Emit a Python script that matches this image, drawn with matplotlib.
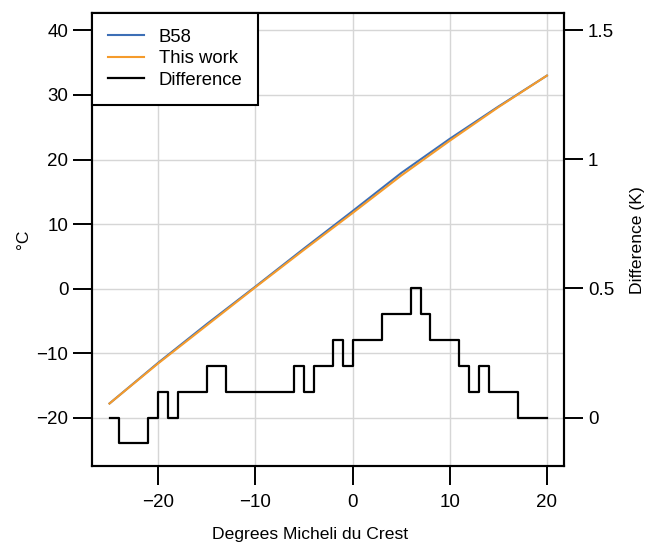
import matplotlib
matplotlib.use('Agg')
import matplotlib.pyplot as plt

plt.rcParams['font.family'] = ['Liberation Sans', 'DejaVu Sans']

# Temperature curves (deg C) against degrees Micheli du Crest
mdc = [-25, -20, -15, -10, -5, 0, 5, 10, 15, 20]
b58 = [-17.8, -11.5, -5.5, 0.3, 6.2, 12.0, 17.9, 23.2, 28.2, 33.0]
this_work = [-17.8, -11.6, -5.7, 0.2, 6.0, 11.7, 17.5, 22.9, 28.1, 33.0]

# Difference (K), one value per integer degree
diff_x = list(range(-25, 21))
diff_k = [0.0, -0.1, -0.1, -0.1, 0.0, 0.1, 0.0, 0.1, 0.1, 0.1,
          0.2, 0.2, 0.1, 0.1, 0.1, 0.1, 0.1, 0.1, 0.1, 0.2,
          0.1, 0.2, 0.2, 0.3, 0.2, 0.3, 0.3, 0.3, 0.4, 0.4,
          0.4, 0.5, 0.4, 0.3, 0.3, 0.3, 0.2, 0.1, 0.2, 0.1,
          0.1, 0.1, 0.0, 0.0, 0.0, 0.0]

fig = plt.figure(figsize=(6.48, 5.44), dpi=100)
ax1 = fig.add_axes([0.142, 0.1425, 0.729, 0.8336])
ax2 = ax1.twinx()

ax1.set_xlim(-26.8, 21.8)
ax1.set_ylim(-27.56, 42.7)
ax2.set_ylim(-0.189, 1.566)

ax1.grid(True, color='#d6d6d6', linewidth=1)
ax1.set_axisbelow(True)

l1, = ax1.plot(mdc, b58, color='#3d6fb6', linewidth=1.5, label='B58')
l2, = ax1.plot(mdc, this_work, color='#f59b2b', linewidth=1.5, label='This work')
l3, = ax2.step(diff_x, diff_k, where='post', color='black', linewidth=1.6, label='Difference')

ax1.set_xticks([-20, -10, 0, 10, 20])
ax1.set_xticklabels(['\u221220', '\u221210', '0', '10', '20'])
ax1.set_yticks([-20, -10, 0, 10, 20, 30, 40])
ax1.set_yticklabels(['\u221220', '\u221210', '0', '10', '20', '30', '40'])
ax2.set_yticks([0, 0.5, 1, 1.5])
ax2.set_yticklabels(['0', '0.5', '1', '1.5'])

for ax in (ax1, ax2):
    ax.tick_params(direction='out', length=13.5, width=1.4, labelsize=13.5, pad=3.5)
    for s in ax.spines.values():
        s.set_linewidth(1.5)
ax1.tick_params(axis='x', pad=6.5)

ax1.set_xlabel('Degrees Micheli du Crest', fontsize=12.6, labelpad=11.5)
ax1.xaxis.label.set_x(0.462)  # label sits a bit left of the axes centre
ax1.set_ylabel('\u00b0C', fontsize=12.6, labelpad=4)
ax2.set_ylabel('Difference (K)', fontsize=12.6, labelpad=11)

leg = ax2.legend(handles=[l1, l2, l3], loc='upper left', fontsize=13.3,
                 frameon=True, fancybox=False, borderaxespad=0,
                 handlelength=1.95, handletextpad=0.8, borderpad=0.85,
                 labelspacing=0.25)
leg.get_frame().set_edgecolor('black')
leg.get_frame().set_linewidth(1.5)
leg.get_frame().set_alpha(1)

fig.savefig('out.png', dpi=100)
